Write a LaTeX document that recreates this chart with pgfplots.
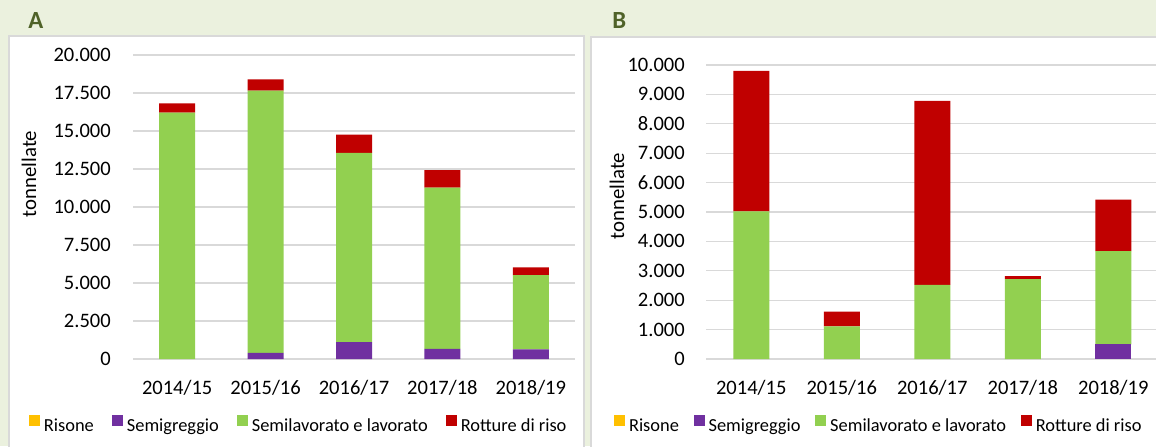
\documentclass[border=0pt]{standalone}
\usepackage{pgfplots}
\pgfplotsset{compat=1.18}
\usepackage{fontspec}
\setmainfont{Carlito}
\definecolor{bgc}{HTML}{EBF1DE}
\definecolor{brd}{HTML}{D9D9D9}
\definecolor{grd}{HTML}{D9D9D9}
\definecolor{cRis}{HTML}{FFC000}
\definecolor{cSem}{HTML}{7030A0}
\definecolor{cLav}{HTML}{92D050}
\definecolor{cRot}{HTML}{C00000}
\definecolor{lab}{HTML}{4F6228}
\pgfplotsset{
  sq/.style={legend image code/.code={\fill[##1] (0pt,0pt) rectangle (8.25pt,8.25pt);}},
  common/.style={
    scale only axis, anchor=south west,
    ybar stacked, bar width=27pt,
    xmin=-0.5, xmax=4.5, ymin=0,
    enlargelimits=false,
    xtick={0,1,2,3,4},
    xticklabels={2014/15,2015/16,2016/17,2017/18,2018/19},
    axis line style={draw=none},
    major tick length=0pt,
    ymajorgrids,
    major grid style={color=grd, line width=1pt},
    scaled y ticks=false,
    /pgf/number format/.cd, fixed, precision=0, 1000 sep={.}, assume math mode=true,
    /pgfplots/.cd,
    tick label style={font=\fontsize{15.4}{18}\selectfont, text=black},
    xticklabel style={anchor=base, inner sep=0pt, yshift=-26.25pt},
    legend columns=4,
    legend style={draw=none, fill=none, inner sep=0pt, outer sep=0pt,
      font=\fontsize{13.8}{16}\selectfont,
      nodes={inner sep=0pt},
      /tikz/every odd column/.append style={column sep=3pt}},
  },
}
\begin{document}
\begin{tikzpicture}
\useasboundingbox (0,0) rectangle (867pt,334.5pt);
\clip (0,0) rectangle (867pt,334.5pt);
\fill[bgc] (0,0) rectangle (867pt,334.5pt);
\filldraw[fill=white, draw=brd, line width=1pt] (6.75pt,-5pt) rectangle (438pt,307.5pt);
\filldraw[fill=white, draw=brd, line width=1pt] (443.25pt,-5pt) rectangle (875pt,306.75pt);
\node[anchor=base west, inner sep=0pt, text=lab, font=\fontsize{18.5}{22}\selectfont\bfseries] at (21pt,312.75pt) {A};
\node[anchor=base west, inner sep=0pt, text=lab, font=\fontsize{18.5}{22}\selectfont\bfseries] at (459pt,312.75pt) {B};

\begin{axis}[common,
  at={(99.75pt,65.25pt)}, width=331.5pt, height=228pt,
  ymax=20000, ytick={0,2500,...,20000},
  yticklabel style={anchor=east, inner sep=0pt, xshift=-16.5pt},
  ylabel={tonnellate},
  every axis y label/.style={at={(axis description cs:-0.2353,0.6086)}, rotate=90, anchor=center, font=\fontsize{15.6}{18}\selectfont},
  legend style={at={(axis description cs:-0.2353,-0.2454)}, anchor=south west,
    /tikz/every even column/.append style={column sep=13.5pt}},
]
\addplot[fill=cRis, draw=none, sq] coordinates {(0,0) (1,0) (2,0) (3,0) (4,0)};
\addplot[fill=cSem, draw=none, sq] coordinates {(0,0) (1,395) (2,1118) (3,658) (4,636)};
\addplot[fill=cLav, draw=none, sq] coordinates {(0,16206) (1,17259) (2,12435) (3,10614) (4,4890)};
\addplot[fill=cRot, draw=none, sq] coordinates {(0,614) (1,745) (2,1206) (3,1162) (4,505)};
\legend{Risone,Semigreggio,Semilavorato e lavorato,Rotture di riso}
\end{axis}

\begin{axis}[common,
  at={(529.5pt,65.25pt)}, width=339.4pt, height=220.5pt,
  ymax=10000, ytick={0,1000,...,10000},
  yticklabel style={anchor=east, inner sep=0pt, xshift=-15.75pt},
  ylabel={tonnellate},
  every axis y label/.style={at={(axis description cs:-0.1967,0.5544)}, rotate=90, anchor=center, font=\fontsize{15.6}{18}\selectfont},
  legend style={at={(axis description cs:-0.2033,-0.2537)}, anchor=south west,
    /tikz/every even column/.append style={column sep=11pt}},
]
\addplot[fill=cRis, draw=none, sq] coordinates {(0,0) (1,0) (2,0) (3,0) (4,0)};
\addplot[fill=cSem, draw=none, sq] coordinates {(0,0) (1,0) (2,0) (3,0) (4,499)};
\addplot[fill=cLav, draw=none, sq] coordinates {(0,5023) (1,1111) (2,2517) (3,2721) (4,3174)};
\addplot[fill=cRot, draw=none, sq] coordinates {(0,4773) (1,499) (2,6259) (3,102) (4,1747)};
\legend{Risone,Semigreggio,Semilavorato e lavorato,Rotture di riso}
\end{axis}
\end{tikzpicture}
\end{document}
